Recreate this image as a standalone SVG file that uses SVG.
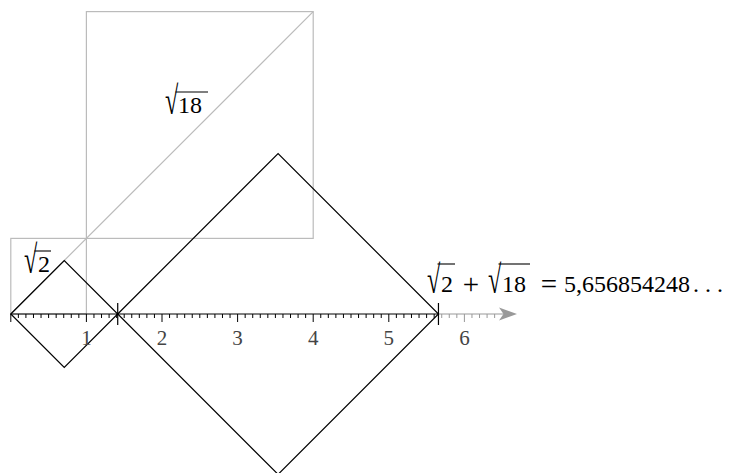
<svg xmlns="http://www.w3.org/2000/svg" width="742" height="473" viewBox="0 0 742 473">
<style>
.g{stroke:#bbbbbb;stroke-width:1.2;fill:none}
.k{stroke:#000;stroke-width:1.2;fill:none}
.t{font-family:"Liberation Serif","DejaVu Serif",serif;font-size:24px;fill:#000}
.op{font-family:"Liberation Serif","DejaVu Serif",serif;font-size:29px;fill:#000;text-anchor:middle}
.r{font-family:"Liberation Serif","DejaVu Serif",serif;font-size:22px;fill:#000}
.lab{font-family:"Liberation Serif","DejaVu Serif",serif;font-size:21px;fill:#444;text-anchor:middle}
.bar{stroke:#000;stroke-width:1.1}
.mt{stroke:#000;stroke-width:1}
.mtg{stroke:#999;stroke-width:1}
</style>
<rect width="742" height="473" fill="#fff"/>
<g id="squares">
<rect class="g" x="10.8" y="238.4" width="75.6" height="75.6"/>
<rect class="g" x="86.4" y="11.6" width="226.8" height="226.8"/>
<line class="g" x1="10.8" y1="314" x2="313.2" y2="11.6"/>
</g>
<g id="axis">
<line x1="438.5" y1="314" x2="506" y2="314" stroke="#999" stroke-width="1.2"/>
<path d="M517,314 L499,307.5 L503.5,314 L499,320.5 Z" fill="#999"/>
<line class="k" x1="10.8" y1="314" x2="438.5" y2="314"/>
<g class="mt">
<path d="M18.36,314v4M25.92,314v4M33.48,314v4M41.04,314v4M48.6,314v4M56.16,314v4M63.72,314v4M71.28,314v4M78.84,314v4
M93.96,314v4M101.52,314v4M109.08,314v4M116.64,314v4M124.2,314v4M131.76,314v4M139.32,314v4M146.88,314v4M154.44,314v4
M169.56,314v4M177.12,314v4M184.68,314v4M192.24,314v4M199.8,314v4M207.36,314v4M214.92,314v4M222.48,314v4M230.04,314v4
M245.16,314v4M252.72,314v4M260.28,314v4M267.84,314v4M275.4,314v4M282.96,314v4M290.52,314v4M298.08,314v4M305.64,314v4
M320.76,314v4M328.32,314v4M335.88,314v4M343.44,314v4M351,314v4M358.56,314v4M366.12,314v4M373.68,314v4M381.24,314v4
M396.36,314v4M403.92,314v4M411.48,314v4M419.04,314v4M426.6,314v4M434.16,314v4
M10.8,314v8M86.4,314v8M162,314v8M237.6,314v8M313.2,314v8M388.8,314v8"/>
</g>
<g class="mtg">
<path d="M441.72,314v4M449.28,314v4M456.84,314v4M471.96,314v4M479.52,314v4M487.08,314v4M494.64,314v4M464.4,314v8"/>
</g>
<line class="k" x1="117.72" y1="303" x2="117.72" y2="325"/>
<line class="k" x1="438.46" y1="303" x2="438.46" y2="325"/>
</g>
<g id="diamonds">
<polygon class="k" points="10.8,314 64.26,260.54 117.72,314 64.26,367.46"/>
<polygon class="k" points="117.72,314 278.09,153.63 438.46,314 278.09,474.37"/>
</g>
<g id="labels">
<text class="lab" x="86.4" y="345">1</text>
<text class="lab" x="162" y="345">2</text>
<text class="lab" x="237.6" y="345">3</text>
<text class="lab" x="313.2" y="345">4</text>
<text class="lab" x="388.8" y="345">5</text>
<text class="lab" x="464.4" y="345">6</text>
</g>
<g id="sqrt2">
<text class="r" transform="translate(24,273) scale(1.1,1.8)">√</text>
<text class="t" x="38" y="272">2</text>
<line class="bar" x1="34.5" y1="251" x2="51" y2="251"/>
</g>
<g id="sqrt18">
<text class="r" transform="translate(165,114) scale(1.1,1.8)">√</text>
<text class="t" x="178" y="113">18</text>
<line class="bar" x1="175.5" y1="92" x2="208" y2="92"/>
</g>
<g id="equation">
<text class="r" transform="translate(427,293) scale(1.1,1.8)">√</text>
<text class="t" x="441" y="292">2</text>
<line class="bar" x1="437.5" y1="264" x2="455" y2="264"/>
<text class="op" x="471" y="294">+</text>
<text class="r" transform="translate(488,293) scale(1.1,1.8)">√</text>
<text class="t" x="502" y="292">18</text>
<line class="bar" x1="498.5" y1="264" x2="530" y2="264"/>
<text class="op" x="549" y="294">=</text>
<text class="t" x="564" y="292">5,656854248</text>
<text class="t" x="693" y="292">. . .</text>
</g>
</svg>
